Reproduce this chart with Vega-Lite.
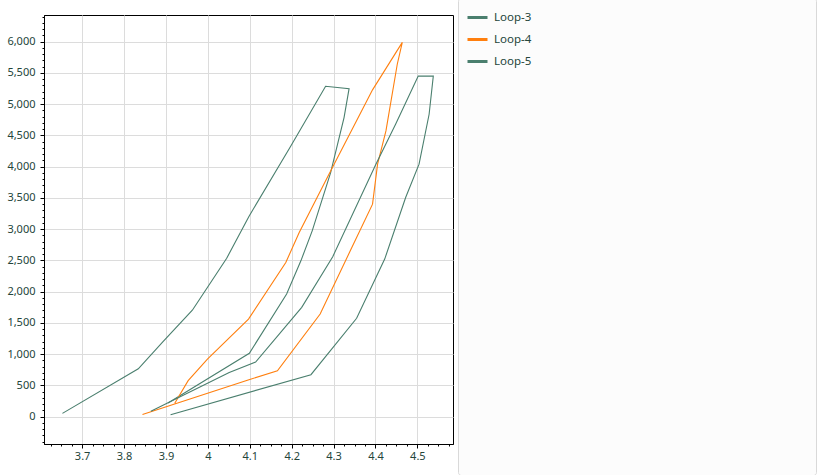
{
  "$schema": "https://vega.github.io/schema/vega-lite/v6.json",
  "background": "white",
  "padding": {"left": 3, "top": -3, "right": 0, "bottom": 0},
  "spacing": 3,
  "config": {
    "font": "Noto Sans",
    "view": {"stroke": null}
  },
  "datasets": {
    "loops": [
      {"series": "Loop-3", "i": 1, "x": 3.653, "y": 53},
      {"series": "Loop-3", "i": 2, "x": 3.834, "y": 767},
      {"series": "Loop-3", "i": 3, "x": 3.893, "y": 1201},
      {"series": "Loop-3", "i": 4, "x": 3.963, "y": 1704},
      {"series": "Loop-3", "i": 5, "x": 4.045, "y": 2536},
      {"series": "Loop-3", "i": 6, "x": 4.098, "y": 3205},
      {"series": "Loop-3", "i": 7, "x": 4.198, "y": 4331},
      {"series": "Loop-3", "i": 8, "x": 4.281, "y": 5288},
      {"series": "Loop-3", "i": 9, "x": 4.337, "y": 5250},
      {"series": "Loop-3", "i": 10, "x": 4.325, "y": 4786},
      {"series": "Loop-3", "i": 11, "x": 4.293, "y": 3906},
      {"series": "Loop-3", "i": 12, "x": 4.249, "y": 2974},
      {"series": "Loop-3", "i": 13, "x": 4.222, "y": 2494},
      {"series": "Loop-3", "i": 14, "x": 4.188, "y": 1962},
      {"series": "Loop-3", "i": 15, "x": 4.099, "y": 1015},
      {"series": "Loop-3", "i": 16, "x": 3.905, "y": 220},
      {"series": "Loop-4", "i": 1, "x": 3.921, "y": 215},
      {"series": "Loop-4", "i": 2, "x": 3.953, "y": 576},
      {"series": "Loop-4", "i": 3, "x": 3.999, "y": 922},
      {"series": "Loop-4", "i": 4, "x": 4.097, "y": 1562},
      {"series": "Loop-4", "i": 5, "x": 4.186, "y": 2467},
      {"series": "Loop-4", "i": 6, "x": 4.218, "y": 2947},
      {"series": "Loop-4", "i": 7, "x": 4.289, "y": 3881},
      {"series": "Loop-4", "i": 8, "x": 4.393, "y": 5230},
      {"series": "Loop-4", "i": 9, "x": 4.464, "y": 5990},
      {"series": "Loop-4", "i": 10, "x": 4.452, "y": 5640},
      {"series": "Loop-4", "i": 11, "x": 4.425, "y": 4573},
      {"series": "Loop-4", "i": 12, "x": 4.405, "y": 4041},
      {"series": "Loop-4", "i": 13, "x": 4.393, "y": 3401},
      {"series": "Loop-4", "i": 14, "x": 4.339, "y": 2643},
      {"series": "Loop-4", "i": 15, "x": 4.268, "y": 1642},
      {"series": "Loop-4", "i": 16, "x": 4.166, "y": 735},
      {"series": "Loop-4", "i": 17, "x": 4.098, "y": 592},
      {"series": "Loop-4", "i": 18, "x": 3.844, "y": 35},
      {"series": "Loop-5", "i": 1, "x": 3.864, "y": 88},
      {"series": "Loop-5", "i": 2, "x": 4.051, "y": 708},
      {"series": "Loop-5", "i": 3, "x": 4.114, "y": 875},
      {"series": "Loop-5", "i": 4, "x": 4.224, "y": 1750},
      {"series": "Loop-5", "i": 5, "x": 4.298, "y": 2560},
      {"series": "Loop-5", "i": 6, "x": 4.401, "y": 4041},
      {"series": "Loop-5", "i": 7, "x": 4.448, "y": 4680},
      {"series": "Loop-5", "i": 8, "x": 4.502, "y": 5450},
      {"series": "Loop-5", "i": 9, "x": 4.538, "y": 5450},
      {"series": "Loop-5", "i": 10, "x": 4.528, "y": 4840},
      {"series": "Loop-5", "i": 11, "x": 4.504, "y": 4041},
      {"series": "Loop-5", "i": 12, "x": 4.472, "y": 3507},
      {"series": "Loop-5", "i": 13, "x": 4.422, "y": 2522},
      {"series": "Loop-5", "i": 14, "x": 4.355, "y": 1575},
      {"series": "Loop-5", "i": 15, "x": 4.246, "y": 672},
      {"series": "Loop-5", "i": 16, "x": 3.911, "y": 32}
    ]
  },
  "resolve": {"scale": {"color": "independent"}, "legend": {"color": "independent"}},
  "hconcat": [
    {
      "spacing": 0,
      "vconcat": [
        {
          "width": 409,
          "height": 11.5,
          "data": {"name": "loops"},
          "transform": [{"filter": "datum.x < 0"}],
          "mark": {"type": "point", "opacity": 0},
          "encoding": {}
        },
        {
          "width": 409,
          "height": 429,
          "view": {"stroke": "black", "strokeWidth": 1},
          "data": {"name": "loops"},
          "mark": {"type": "line", "strokeWidth": 1.1},
          "encoding": {
            "x": {
              "field": "x", "type": "quantitative",
              "scale": {"domain": [3.609, 4.585], "nice": false, "zero": false},
              "axis": {
                "title": null,
                "values": [3.625,3.65,3.675,3.7,3.725,3.75,3.775,3.8,3.825,3.85,3.875,3.9,3.925,3.95,3.975,4,4.025,4.05,4.075,4.1,4.125,4.15,4.175,4.2,4.225,4.25,4.275,4.3,4.325,4.35,4.375,4.4,4.425,4.45,4.475,4.5,4.525,4.55,4.575],
                "labelExpr": "abs(datum.value*10 - round(datum.value*10)) < 0.001 ? format(datum.value, '.1~f') : ''",
                "labelOverlap": false,
                "labelFontSize": 11,
                "labelColor": "#24453a",
                "labelPadding": 2,
                "labelFlush": false,
                "tickColor": "black",
                "tickSize": {"condition": {"test": "abs(datum.value*10 - round(datum.value*10)) < 0.001", "value": 4}, "value": 2},
                "domainColor": "black",
                "gridColor": "#dcdcdc",
                "gridOpacity": {"condition": {"test": "abs(datum.value*10 - round(datum.value*10)) < 0.001", "value": 1}, "value": 0}
              }
            },
            "y": {
              "field": "y", "type": "quantitative",
              "scale": {"domain": [-437, 6428], "nice": false, "zero": false},
              "axis": {
                "title": null,
                "values": [-400,-300,-200,-100,0,100,200,300,400,500,600,700,800,900,1000,1100,1200,1300,1400,1500,1600,1700,1800,1900,2000,2100,2200,2300,2400,2500,2600,2700,2800,2900,3000,3100,3200,3300,3400,3500,3600,3700,3800,3900,4000,4100,4200,4300,4400,4500,4600,4700,4800,4900,5000,5100,5200,5300,5400,5500,5600,5700,5800,5900,6000,6100,6200,6300,6400],
                "labelExpr": "datum.value % 500 === 0 ? format(datum.value, ',') : ''",
                "labelOverlap": false,
                "labelFontSize": 11,
                "labelColor": "#24453a",
                "labelPadding": 5,
                "labelFlush": false,
                "minExtent": 40,
                "maxExtent": 40,
                "tickColor": "black",
                "tickSize": {"condition": {"test": "datum.value % 500 === 0", "value": 4}, "value": 2},
                "domainColor": "black",
                "gridColor": "#dcdcdc",
                "gridOpacity": {"condition": {"test": "datum.value % 500 === 0", "value": 1}, "value": 0}
              }
            },
            "order": {"field": "i", "type": "quantitative"},
            "color": {
              "field": "series", "type": "nominal",
              "scale": {"domain": ["Loop-3", "Loop-4", "Loop-5"], "range": ["#4a7f6e", "#ff7f0e", "#4a7f6e"]},
              "legend": null
            }
          }
        }
      ]
    },
    {
      "width": 358,
      "height": 477,
      "view": {"stroke": "#d9d9d9", "fill": "#fcfcfc", "cornerRadius": 3},
      "data": {"name": "loops"},
      "transform": [{"filter": "datum.x < 0"}],
      "mark": {"type": "line", "strokeWidth": 3},
      "encoding": {
        "color": {
          "field": "series", "type": "nominal",
          "scale": {"domain": ["Loop-3", "Loop-4", "Loop-5"], "range": ["#4a7f6e", "#ff7f0e", "#4a7f6e"]},
          "legend": {
            "title": null,
            "orient": "none",
            "legendX": 8,
            "legendY": 8,
            "symbolType": "stroke",
            "symbolSize": 400,
            "symbolStrokeWidth": 3,
            "labelFontSize": 11.5,
            "labelColor": "#24453a",
            "labelOffset": 5,
            "rowPadding": 4,
            "padding": 0
          }
        }
      }
    }
  ]
}
